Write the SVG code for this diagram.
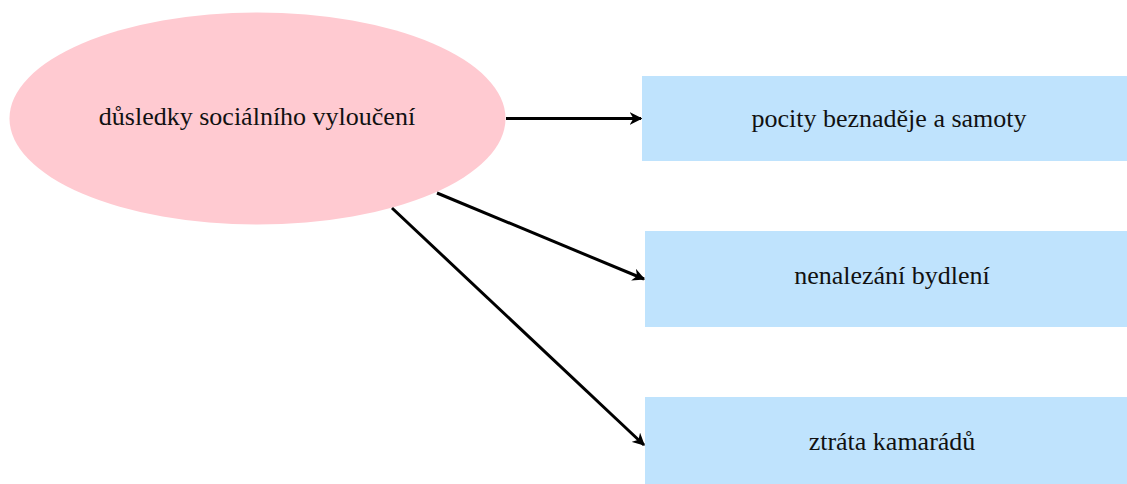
<svg xmlns="http://www.w3.org/2000/svg" width="1127" height="484" viewBox="0 0 1127 484">
  <style>
    .lbl { font-family: "Liberation Serif", "Times New Roman", serif; font-size: 26px; fill: #111; text-anchor: middle; }
    .box { fill: #bfe3fd; }
    .oval { fill: #ffcad1; }
    .edge { stroke: #000; stroke-width: 3; fill: none; marker-end: url(#arrow); }
  </style>
  <defs>
    <marker id="arrow" viewBox="0 0 10 10" refX="9" refY="5" markerWidth="4.2" markerHeight="4.2" orient="auto" markerUnits="strokeWidth">
      <path d="M0,0 L10,5 L0,10 L3,5 Z" fill="#000"/>
    </marker>
  </defs>
  <rect width="1127" height="484" fill="#fff"/>

  <g id="consequences">
    <ellipse class="oval" cx="257.5" cy="118.5" rx="248" ry="106"/>
    <text class="lbl" x="257" y="125">důsledky sociálního vyloučení</text>
  </g>

  <g id="hopelessness">
    <rect class="box" x="642" y="76" width="494" height="85"/>
    <text class="lbl" x="889" y="127">pocity beznaděje a samoty</text>
  </g>

  <g id="housing">
    <rect class="box" x="645" y="231" width="494" height="96"/>
    <text class="lbl" x="892" y="284">nenalezání bydlení</text>
  </g>

  <g id="friends">
    <rect class="box" x="645" y="397" width="494" height="95"/>
    <text class="lbl" x="892" y="450">ztráta kamarádů</text>
  </g>

  <g id="connectors">
    <line class="edge" x1="506" y1="118.5" x2="641" y2="118.5"/>
    <line class="edge" x1="437" y1="193" x2="644" y2="279"/>
    <line class="edge" x1="392" y1="208" x2="644" y2="445"/>
  </g>
</svg>
